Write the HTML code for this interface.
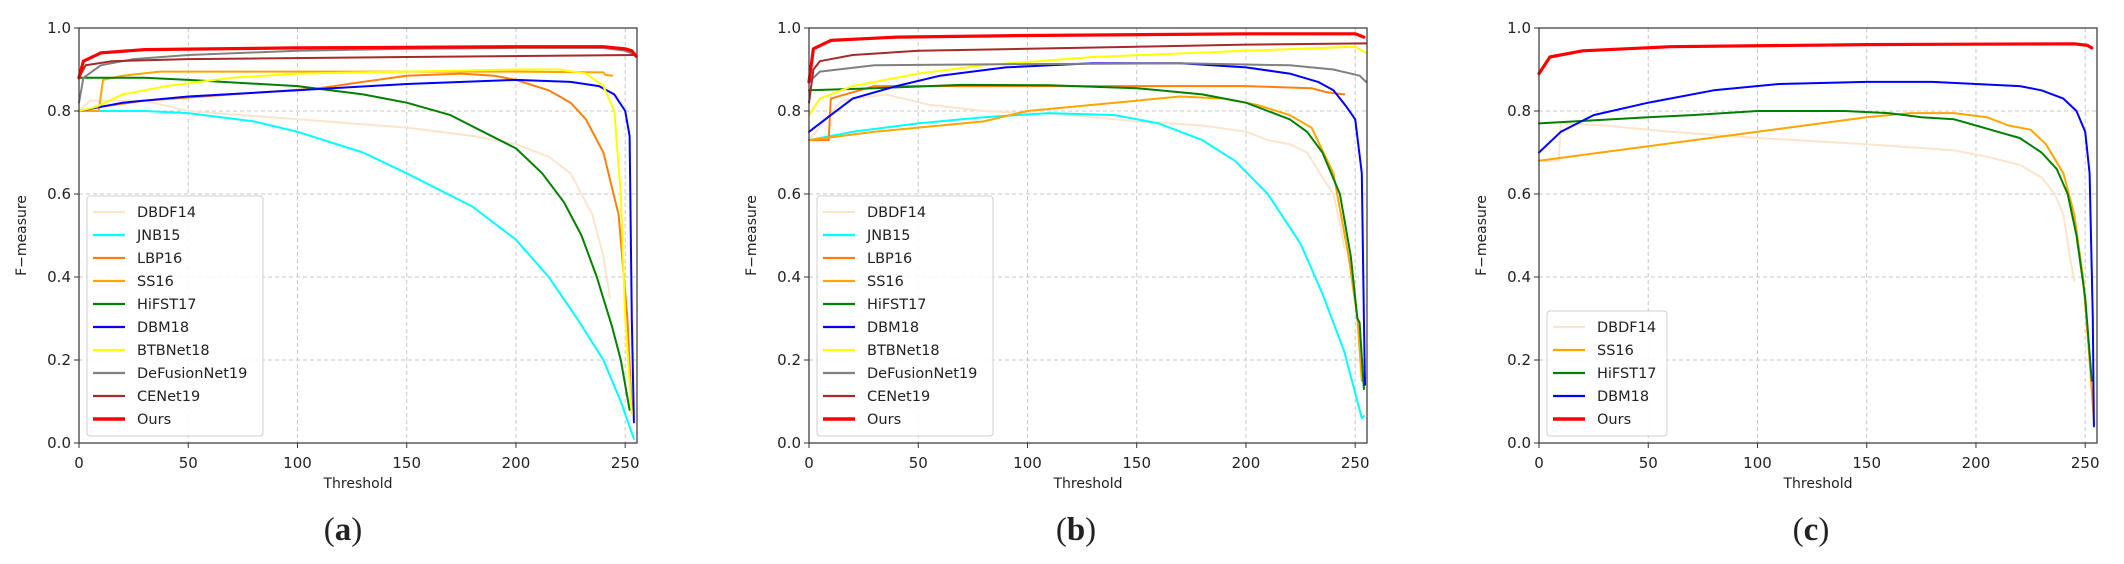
<!DOCTYPE html>
<html>
<head>
<meta charset="utf-8">
<style>
  html,body{margin:0;padding:0;background:#fff;}
  svg{display:block;}
  text{font-family:"DejaVu Sans","Liberation Sans",sans-serif;fill:#222;}
</style>
</head>
<body>
<svg id="fig" width="2124" height="564" viewBox="0 0 2124 564" xmlns="http://www.w3.org/2000/svg"></svg>
<script>
// ---- shared axis data ----
const xTicks = [0, 50, 100, 150, 200, 250];
const yTicks = [0.0, 0.2, 0.4, 0.6, 0.8, 1.0];
const yTickLabels = ["0.0", "0.2", "0.4", "0.6", "0.8", "1.0"];

// ---- series colours / names ----
const seriesNames = ["DBDF14","JNB15","LBP16","SS16","HiFST17","DBM18","BTBNet18","DeFusionNet19","CENet19","Ours"];
const seriesColors = {DBDF14:"#fde4cc",JNB15:"#00ffff",LBP16:"#ff7f0e",SS16:"#ffa500",HiFST17:"#008000",DBM18:"#0000ff",BTBNet18:"#ffff00",DeFusionNet19:"#808080",CENet19:"#a52a2a",Ours:"#ff0000"};

// ---- panel (a) data: [threshold, F-measure] ----
const aDBDF14 = [[0,0.80],[5,0.825],[30,0.825],[50,0.80],[100,0.78],[150,0.76],[180,0.74],[200,0.72],[215,0.69],[225,0.65],[235,0.55],[240,0.45],[243,0.35]];
const aJNB15 = [[0,0.80],[30,0.80],[50,0.795],[80,0.775],[100,0.75],[130,0.70],[150,0.65],[180,0.57],[200,0.49],[215,0.40],[228,0.30],[240,0.20],[248,0.10],[254,0.01]];
const aLBP16 = [[0,0.80],[10,0.81],[30,0.825],[70,0.84],[110,0.855],[130,0.87],[150,0.885],[175,0.89],[190,0.885],[200,0.875],[215,0.85],[225,0.82],[232,0.78],[240,0.70],[247,0.55],[251,0.30],[253,0.08]];
const aSS16 = [[0,0.80],[9,0.80],[11,0.875],[20,0.885],[37,0.895],[100,0.895],[200,0.895],[240,0.893],[241,0.887],[244,0.885]];
const aHiFST17 = [[0,0.88],[30,0.88],[50,0.875],[100,0.86],[130,0.84],[150,0.82],[170,0.79],[185,0.75],[200,0.71],[212,0.65],[222,0.58],[230,0.50],[237,0.40],[244,0.28],[248,0.20],[252,0.08]];
const aDBM18 = [[0,0.80],[20,0.82],[50,0.835],[100,0.85],[150,0.865],[200,0.875],[225,0.87],[238,0.86],[245,0.84],[250,0.80],[252,0.74],[253,0.30],[254,0.05]];
const aBTBNet18 = [[0,0.80],[8,0.81],[20,0.84],[40,0.86],[70,0.88],[100,0.89],[150,0.895],[200,0.90],[220,0.90],[232,0.89],[240,0.86],[245,0.80],[248,0.60],[250,0.30],[253,0.07]];
const aDeFusionNet19 = [[0,0.82],[2,0.88],[10,0.91],[25,0.925],[50,0.935],[100,0.945],[150,0.95],[200,0.952],[240,0.952],[250,0.945],[255,0.935]];
const aCENet19 = [[0,0.88],[3,0.91],[15,0.92],[50,0.925],[150,0.93],[255,0.935]];
const aOurs = [[0,0.88],[2,0.92],[10,0.94],[30,0.948],[100,0.952],[200,0.955],[240,0.955],[250,0.95],[253,0.945],[255,0.932]];

// ---- panel (b) data ----
const bDBDF14 = [[0,0.73],[15,0.825],[35,0.84],[55,0.815],[80,0.80],[120,0.79],[150,0.775],[180,0.765],[200,0.75],[210,0.73],[220,0.72],[228,0.70],[235,0.64],[240,0.60],[243,0.53],[245,0.47]];
const bJNB15 = [[0,0.73],[20,0.75],[50,0.77],[80,0.785],[110,0.795],[140,0.79],[160,0.77],[180,0.73],[195,0.68],[210,0.60],[225,0.48],[235,0.36],[245,0.22],[251,0.10],[253,0.06],[254,0.065]];
const bLBP16 = [[0,0.73],[9,0.73],[10,0.83],[20,0.845],[30,0.86],[100,0.86],[200,0.86],[230,0.855],[237,0.845],[245,0.84]];
const bSS16 = [[0,0.73],[30,0.75],[80,0.775],[100,0.80],[140,0.82],[170,0.835],[190,0.83],[205,0.815],[220,0.79],[230,0.76],[240,0.65],[247,0.45],[251,0.30],[253,0.15]];
const bHiFST17 = [[0,0.85],[30,0.855],[70,0.863],[110,0.862],[150,0.855],[180,0.84],[200,0.82],[210,0.80],[220,0.78],[228,0.75],[235,0.70],[243,0.60],[248,0.45],[251,0.30],[252,0.29],[254,0.13]];
const bDBM18 = [[0,0.75],[10,0.79],[20,0.83],[40,0.86],[60,0.885],[90,0.905],[130,0.915],[170,0.915],[200,0.905],[220,0.89],[233,0.87],[240,0.85],[246,0.81],[250,0.78],[253,0.65],[254,0.30],[254.5,0.14]];
const bBTBNet18 = [[0,0.79],[5,0.83],[20,0.86],[50,0.89],[80,0.91],[130,0.93],[200,0.945],[250,0.955],[255,0.94]];
const bDeFusionNet19 = [[0,0.87],[5,0.895],[30,0.91],[100,0.913],[170,0.915],[220,0.91],[240,0.90],[252,0.885],[255,0.87]];
const bCENet19 = [[0,0.82],[2,0.90],[5,0.92],[20,0.935],[50,0.945],[100,0.95],[150,0.955],[200,0.96],[255,0.963]];
const bOurs = [[0,0.87],[2,0.95],[10,0.97],[40,0.978],[100,0.982],[200,0.986],[250,0.986],[254,0.978]];

// ---- panel (c) data ----
const cDBDF14 = [[0,0.68],[9,0.68],[10,0.77],[30,0.765],[60,0.75],[100,0.735],[150,0.72],[190,0.705],[205,0.69],[220,0.67],[230,0.64],[236,0.60],[240,0.55],[243,0.45],[245,0.39]];
const cSS16 = [[0,0.68],[50,0.715],[100,0.75],[150,0.785],[170,0.795],[190,0.795],[205,0.785],[215,0.765],[225,0.755],[232,0.72],[240,0.65],[245,0.55],[249,0.40],[252,0.20],[254,0.05]];
const cHiFST17 = [[0,0.77],[50,0.785],[70,0.79],[100,0.80],[140,0.80],[160,0.795],[175,0.785],[190,0.78],[200,0.765],[210,0.75],[220,0.735],[230,0.70],[237,0.66],[242,0.60],[246,0.50],[250,0.35],[253,0.15]];
const cDBM18 = [[0,0.70],[10,0.75],[25,0.79],[50,0.82],[80,0.85],[110,0.865],[150,0.87],[180,0.87],[200,0.865],[220,0.86],[230,0.85],[240,0.83],[246,0.80],[250,0.75],[252,0.65],[253.5,0.30],[254,0.04]];
const cOurs = [[0,0.89],[5,0.93],[20,0.945],[60,0.955],[150,0.96],[245,0.962],[251,0.958],[253,0.952]];

const panels = [
  {id:"a", left:79, label:"(a)", labelX:343,
   series:{DBDF14:aDBDF14,JNB15:aJNB15,LBP16:aLBP16,SS16:aSS16,HiFST17:aHiFST17,DBM18:aDBM18,BTBNet18:aBTBNet18,DeFusionNet19:aDeFusionNet19,CENet19:aCENet19,Ours:aOurs},
   legend:seriesNames, legendW:176},
  {id:"b", left:809, label:"(b)", labelX:1076,
   series:{DBDF14:bDBDF14,JNB15:bJNB15,LBP16:bLBP16,SS16:bSS16,HiFST17:bHiFST17,DBM18:bDBM18,BTBNet18:bBTBNet18,DeFusionNet19:bDeFusionNet19,CENet19:bCENet19,Ours:bOurs},
   legend:seriesNames, legendW:176},
  {id:"c", left:1539, label:"(c)", labelX:1811,
   series:{DBDF14:cDBDF14,SS16:cSS16,HiFST17:cHiFST17,DBM18:cDBM18,Ours:cOurs},
   legend:["DBDF14","SS16","HiFST17","DBM18","Ours"], legendW:120}
];

const NS = "http://www.w3.org/2000/svg";
const svg = document.getElementById("fig");
const TOP = 28, BOTTOM = 443, W = 558;
const XMAX = 255.4;

function mk(tag, attrs, parent){
  const e = document.createElementNS(NS, tag);
  for (const k in attrs) e.setAttribute(k, attrs[k]);
  (parent || svg).appendChild(e);
  return e;
}

panels.forEach(p => {
  const g = mk("g", {});
  
  
  const xs = t => p.left + t / XMAX * W;
  const ys = v => BOTTOM - v * (BOTTOM - TOP);

  // grid
  const grid = mk("g", {}, g);
  
  
  xTicks.forEach(t => { if (t > 0) mk("line", {x1:xs(t), x2:xs(t), y1:TOP, y2:BOTTOM, stroke:"#c8c8c8", "stroke-width":1, "stroke-dasharray":"4,3"}, grid); });
  yTicks.forEach(v => { if (v > 0 && v < 1) mk("line", {x1:p.left, x2:p.left+W, y1:ys(v), y2:ys(v), stroke:"#c8c8c8", "stroke-width":1, "stroke-dasharray":"4,3"}, grid); });

  // series
  Object.keys(p.series).forEach(name => {
    const pts = p.series[name].map(d => xs(d[0]).toFixed(1) + "," + ys(d[1]).toFixed(1)).join(" ");
    const pl = mk("polyline", {points:pts, fill:"none", stroke:seriesColors[name], "stroke-width": name === "Ours" ? 3.2 : 2, "stroke-linejoin":"round", "stroke-linecap":"round"}, g);
    
    
  });

  // axes frame
  const frame = mk("rect", {x:p.left, y:TOP, width:W, height:BOTTOM-TOP, fill:"none", stroke:"#333", "stroke-width":1.2}, g);
  
  

  // x ticks
  xTicks.forEach(t => {
    mk("line", {x1:xs(t), x2:xs(t), y1:BOTTOM, y2:BOTTOM+5, stroke:"#333", "stroke-width":1}, g);
    const tx = mk("text", {x:xs(t), y:BOTTOM+25, "text-anchor":"middle", "font-size":15}, g);
    tx.textContent = String(t);
    
    
  });
  // y ticks
  yTicks.forEach((v, i) => {
    mk("line", {x1:p.left-5, x2:p.left, y1:ys(v), y2:ys(v), stroke:"#333", "stroke-width":1}, g);
    const ty = mk("text", {x:p.left-8, y:ys(v)+5, "text-anchor":"end", "font-size":15}, g);
    ty.textContent = yTickLabels[i];
    
    
  });

  // axis titles
  const xt = mk("text", {x:p.left + W/2, y:488, "text-anchor":"middle", "font-size":14}, g);
  xt.textContent = "Threshold";
  
  
  const yt = mk("text", {x:0, y:0, "text-anchor":"middle", "font-size":14, transform:"translate(" + (p.left-53) + "," + ((TOP+BOTTOM)/2) + ") rotate(-90)"}, g);
  yt.textContent = "F\u2212measure";
  
  

  // legend
  const lg = mk("g", {}, g);
  
  
  const rowH = 23;
  const lh = p.legend.length * rowH + 10;
  const lx = p.left + 8, ly = 436 - lh;
  mk("rect", {x:lx, y:ly, width:p.legendW, height:lh, rx:3, fill:"#fff", "fill-opacity":0.85, stroke:"#d0d0d0", "stroke-width":1}, lg);
  p.legend.forEach((name, i) => {
    const cy = ly + 16 + i * rowH;
    const ent = mk("g", {}, lg);
    
    
    mk("line", {x1:lx+6, x2:lx+38, y1:cy, y2:cy, stroke:seriesColors[name], "stroke-width": name === "Ours" ? 3.5 : 2.2}, ent);
    const lt = mk("text", {x:lx+50, y:cy+5, "font-size":14.5}, ent);
    lt.textContent = name;
  });

  // subplot label
  const sl = mk("text", {x:p.labelX, y:540, "text-anchor":"middle", "font-size":33, style:"font-family:'Liberation Serif','DejaVu Serif',serif"}, g);
  
  
  const s1 = mk("tspan", {}, sl); s1.textContent = "(";
  const s2 = mk("tspan", {"font-weight":"bold"}, sl); s2.textContent = p.id;
  const s3 = mk("tspan", {}, sl); s3.textContent = ")";
});
</script>
</body>
</html>
